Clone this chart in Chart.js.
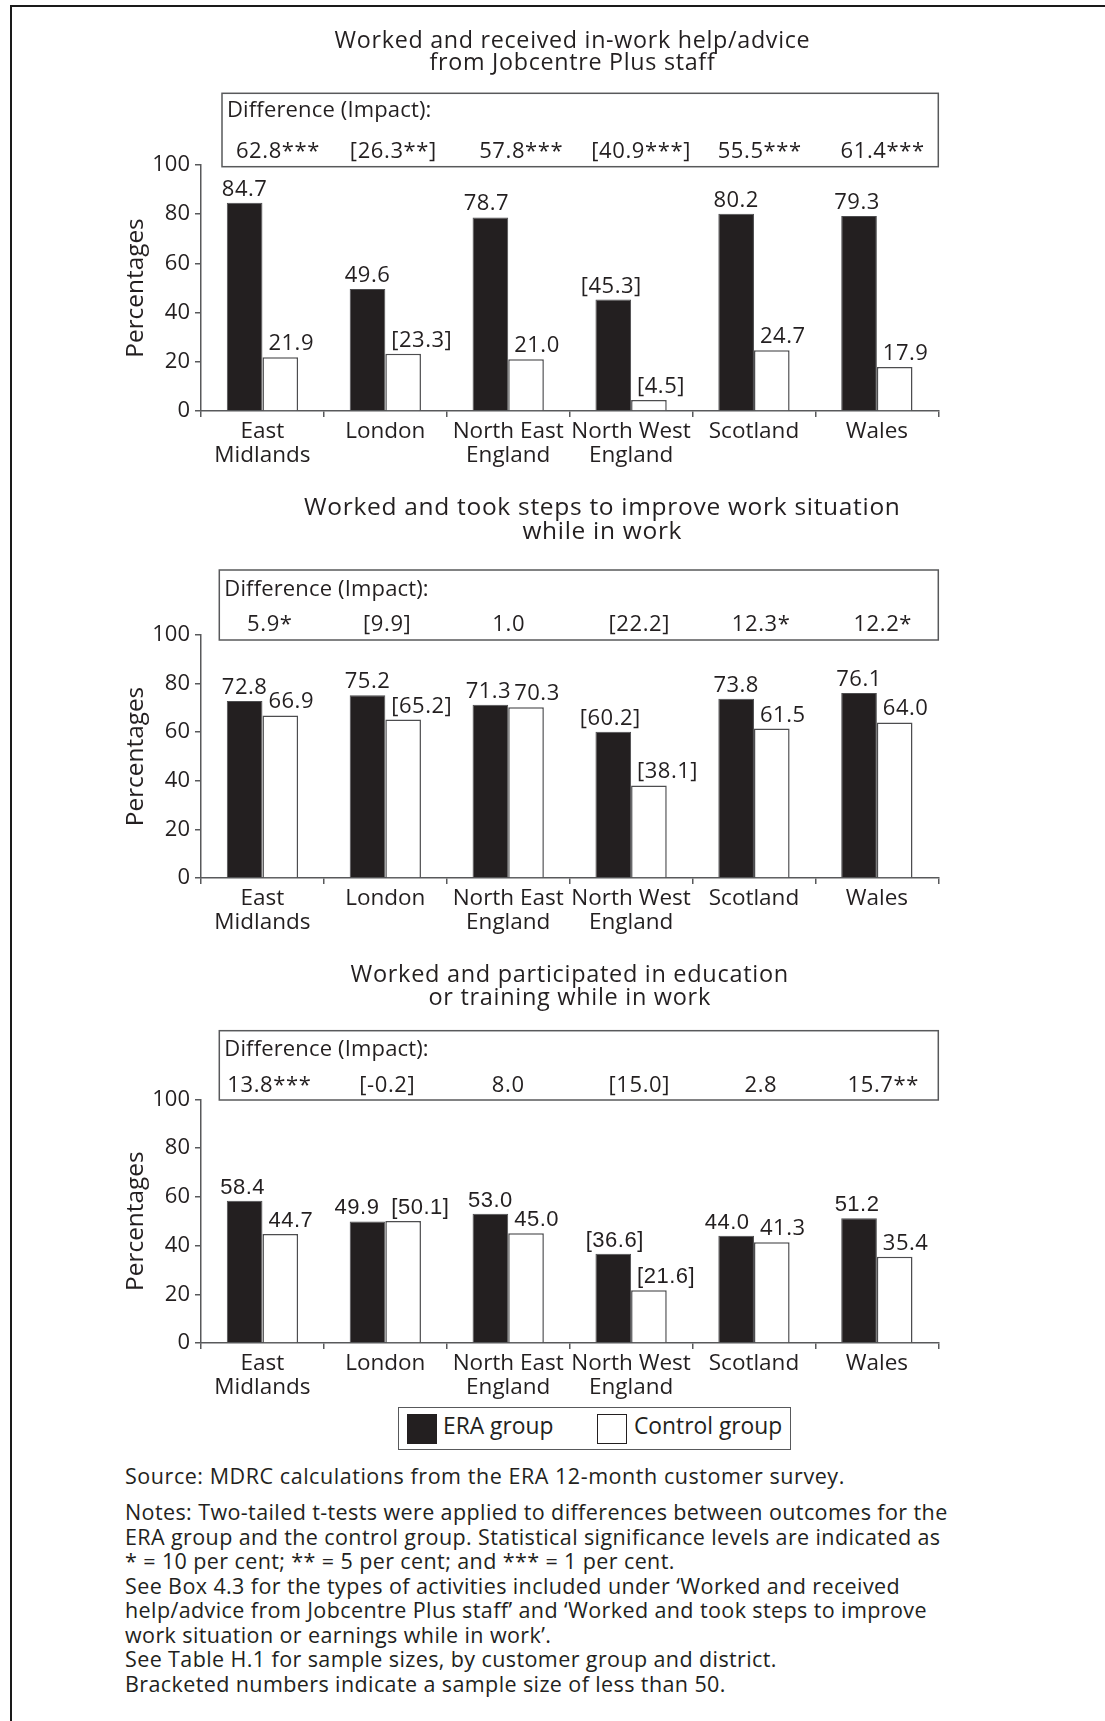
<!DOCTYPE html>
<html>
<head>
<meta charset="utf-8">
<title>ERA in-work outcomes by district</title>
<script src="https://cdn.jsdelivr.net/npm/chart.js@4.4.1/dist/chart.umd.min.js"></script>
<style>
  html, body { margin: 0; padding: 0; background: #ffffff; }
  #page {
    position: relative; width: 1105px; height: 1721px; overflow: hidden;
    font-family: 'Open Sans', 'Noto Sans', sans-serif; color: #231f20;
  }
  #frame {
    position: absolute; left: 10px; top: 5px; right: 0; bottom: 0;
    border-top: 2px solid #1a1a1a; border-left: 2px solid #1a1a1a;
  }
  canvas { position: absolute; left: 0; }
  .legend-box {
    position: absolute; left: 398px; top: 1407px; width: 393px; height: 43px;
    border: 1.5px solid #58595b; box-sizing: border-box;
  }
  .swatch { position: absolute; top: 1414px; width: 30px; height: 30px; box-sizing: border-box; }
  .swatch.era { left: 407px; background: #231f20; }
  .swatch.control { left: 597px; background: #ffffff; border: 1.5px solid #231f20; }
  .legend-text { position: absolute; top: 1414px; font-size: 22.8px; line-height: 23px; white-space: nowrap; }
  .notes { position: absolute; left: 125px; font-size: 21.5px; letter-spacing: 0.4px; line-height: 24.5px; white-space: nowrap; }
  .notes.source { letter-spacing: 0.55px; }
</style>
</head>
<body>
<div id="page">
  <div id="frame"></div>
  <canvas id="chartHelp"></canvas>
  <canvas id="chartSteps"></canvas>
  <canvas id="chartTraining"></canvas>

  <div class="legend-box"></div>
  <div class="swatch era"></div>
  <div class="legend-text" style="left:443px;">ERA group</div>
  <div class="swatch control"></div>
  <div class="legend-text" style="left:634px;">Control group</div>

  <div class="notes source" style="top:1464px;">Source: MDRC calculations from the ERA 12-month customer survey.</div>
  <div class="notes" style="top:1500px;">
    Notes: Two-tailed t-tests were applied to differences between outcomes for the<br>
    ERA group and the control group. Statistical significance levels are indicated as<br>
    * = 10 per cent; ** = 5 per cent; and *** = 1 per cent.<br>
    See Box 4.3 for the types of activities included under ‘Worked and received<br>
    help/advice from Jobcentre Plus staff’ and ‘Worked and took steps to improve<br>
    work situation or earnings while in work’.<br>
    See Table H.1 for sample sizes, by customer group and district.<br>
    Bracketed numbers indicate a sample size of less than 50.
  </div>
</div>

<script>
// ---- Data -------------------------------------------------------------
const districts = [['East', 'Midlands'], 'London', ['North East', 'England'], ['North West', 'England'], 'Scotland', 'Wales'];
const yTicks = [0, 20, 40, 60, 80, 100];

// Districts whose estimates rest on fewer than 50 cases (shown in brackets)
const eraBracketed = [false, false, false, true, false, false];
const controlBracketed = [false, true, false, true, false, false];

const helpTitle = ['Worked and received in-work help/advice', 'from Jobcentre Plus staff'];
const helpEra = [84.7, 49.6, 78.7, 45.3, 80.2, 79.3];
const helpControl = [21.9, 23.3, 21.0, 4.5, 24.7, 17.9];
const helpImpact = ['62.8***', '[26.3**]', '57.8***', '[40.9***]', '55.5***', '61.4***'];

const stepsTitle = ['Worked and took steps to improve work situation', 'while in work'];
const stepsEra = [72.8, 75.2, 71.3, 60.2, 73.8, 76.1];
const stepsControl = [66.9, 65.2, 70.3, 38.1, 61.5, 64.0];
const stepsImpact = ['5.9*', '[9.9]', '1.0', '[22.2]', '12.3*', '12.2*'];

const trainTitle = ['Worked and participated in education', 'or training while in work'];
const trainEra = [58.4, 49.9, 53.0, 36.6, 44.0, 51.2];
const trainControl = [44.7, 50.1, 45.0, 21.6, 41.3, 35.4];
const trainImpact = ['13.8***', '[-0.2]', '8.0', '[15.0]', '2.8', '15.7**'];

// ---- Styling & layout -------------------------------------------------
const INK = '#231f20';
const AXIS = '#58595b';
const FACE = "'Open Sans', 'Noto Sans', sans-serif";
const ALT_FACE = "'Liberation Sans', Arial, sans-serif";
const PAGE_W = 1105;
const PLOT_LEFT = 201;
const PLOT_RIGHT = 938.3;
const AXIS_H = 64;

const panels = [
  {
    id: 'chartHelp', title: helpTitle, era: helpEra, control: helpControl, impact: helpImpact,
    canvasTop: 0, plotTop: 165, plotBottom: 410.7,
    titleX: 572.5, titleBase: [48.3, 69.5], titleSize: 23.3,
    box: { left: 222, top: 93.3, bottom: 166.7 }, diffBase: 117, impactBase: 157.5,
    impactShift: [15.5, 8, 13, 10, 5.7, 5.8],
    eraNudge: [0, 0, -4, -2, 0, -2],
    eraFaces: null, controlFaces: null
  },
  {
    id: 'chartSteps', title: stepsTitle, era: stepsEra, control: stepsControl, impact: stepsImpact,
    canvasTop: 470, plotTop: 635, plotBottom: 877.7,
    titleX: 602.3, titleBase: [515, 539.3], titleSize: 24.5,
    box: { left: 219.3, top: 570, bottom: 640 }, diffBase: 596, impactBase: 630.5,
    impactShift: [7.4, 1.9, 0.5, 8.2, 7.2, 5.9],
    eraNudge: [0, 0, -2, -3, 0, 0],
    eraFaces: null, controlFaces: null
  },
  {
    id: 'chartTraining', title: trainTitle, era: trainEra, control: trainControl, impact: trainImpact,
    canvasTop: 935, plotTop: 1099.3, plotBottom: 1342.7,
    titleX: 569.7, titleBase: [981.7, 1004.5], titleSize: 23.5,
    box: { left: 219.3, top: 1030.7, bottom: 1100 }, diffBase: 1055.7, impactBase: 1091.7,
    impactShift: [6.9, 2, 0, 8.2, 6.9, 6.4],
    eraNudge: [-2, -10.5, 0, 1.5, -9, -2],
    eraFaces: [ALT_FACE, ALT_FACE, ALT_FACE, ALT_FACE, ALT_FACE, ALT_FACE],
    controlFaces: [ALT_FACE, ALT_FACE, ALT_FACE, ALT_FACE, FACE, FACE]
  }
];

const fmt = (v, bracketed) => bracketed ? '[' + v.toFixed(1) + ']' : v.toFixed(1);

// Title lines and the "Difference (Impact)" box above each plot
function headerPlugin(p) {
  return {
    id: 'panelHeader',
    afterDraw(chart) {
      const ctx = chart.ctx;
      const off = p.canvasTop;
      const xScale = chart.scales.x;
      ctx.save();
      ctx.fillStyle = INK;
      ctx.textBaseline = 'alphabetic';

      ctx.font = p.titleSize + 'px ' + FACE;
      ctx.letterSpacing = '0.7px';
      ctx.textAlign = 'center';
      p.title.forEach((line, i) => ctx.fillText(line, p.titleX, p.titleBase[i] - off));

      ctx.strokeStyle = AXIS;
      ctx.lineWidth = 1.5;
      ctx.strokeRect(p.box.left, p.box.top - off, PLOT_RIGHT - p.box.left, p.box.bottom - p.box.top);

      ctx.font = '22px ' + FACE;
      ctx.letterSpacing = '0.15px';
      ctx.textAlign = 'left';
      ctx.fillText('Difference (Impact):', p.box.left + 5, p.diffBase - off);

      ctx.textAlign = 'center';
      ctx.letterSpacing = '0.6px';
      p.impact.forEach((txt, i) => {
        ctx.fillText(txt, xScale.getPixelForValue(i) + p.impactShift[i], p.impactBase - off);
      });
      ctx.restore();
    }
  };
}

// Value labels over each bar
function barLabelPlugin(p) {
  return {
    id: 'barValues',
    afterDatasetsDraw(chart) {
      const ctx = chart.ctx;
      ctx.save();
      ctx.fillStyle = INK;
      ctx.textBaseline = 'alphabetic';
      ctx.letterSpacing = '0.5px';
      chart.getDatasetMeta(0).data.forEach((bar, i) => {
        ctx.font = '22px ' + (p.eraFaces ? p.eraFaces[i] : FACE);
        ctx.textAlign = 'center';
        ctx.fillText(fmt(p.era[i], eraBracketed[i]), bar.x + p.eraNudge[i], bar.y - 7);
      });
      chart.getDatasetMeta(1).data.forEach((bar, i) => {
        ctx.font = '22px ' + (p.controlFaces ? p.controlFaces[i] : FACE);
        ctx.textAlign = 'left';
        ctx.fillText(fmt(p.control[i], controlBracketed[i]), bar.x - bar.width / 2 + 6, bar.y - 7);
      });
      ctx.restore();
    }
  };
}

function buildPanel(p) {
  const canvas = document.getElementById(p.id);
  canvas.width = PAGE_W;
  canvas.height = Math.ceil(p.plotBottom - p.canvasTop + AXIS_H);
  canvas.style.top = p.canvasTop + 'px';

  new Chart(canvas, {
    type: 'bar',
    data: {
      labels: districts,
      datasets: [
        { label: 'ERA group', data: p.era, backgroundColor: INK, borderColor: '#4d4d4f', borderWidth: 1 },
        { label: 'Control group', data: p.control, backgroundColor: '#ffffff', borderColor: '#4d4d4f', borderWidth: 1.5 }
      ]
    },
    options: {
      responsive: false,
      animation: false,
      devicePixelRatio: 1,
      layout: { padding: { left: 0, right: PAGE_W - PLOT_RIGHT, top: p.plotTop - p.canvasTop, bottom: 0 } },
      datasets: { bar: { categoryPercentage: 0.58, barPercentage: 1 } },
      plugins: { legend: { display: false }, tooltip: { enabled: false }, title: { display: false } },
      scales: {
        x: {
          grid: { offset: true, drawOnChartArea: false, drawTicks: true, tickLength: 6, color: AXIS, lineWidth: 1.5 },
          border: { display: true, color: AXIS, width: 1.5 },
          ticks: { color: INK, font: { family: FACE, size: 22.5, lineHeight: 1.08 }, padding: 2, autoSkip: false, maxRotation: 0, minRotation: 0 },
          afterFit: (s) => { s.height = AXIS_H; }
        },
        y: {
          min: 0, max: 100,
          afterBuildTicks: (s) => { s.ticks = yTicks.map(v => ({ value: v })); },
          grid: { drawOnChartArea: false, drawTicks: true, tickLength: 6, color: AXIS, lineWidth: 1.5 },
          border: { display: true, color: AXIS, width: 1.5 },
          ticks: { color: INK, font: { family: FACE, size: 22 }, padding: 5 },
          title: { display: true, text: 'Percentages', color: INK, font: { family: FACE, size: 24.4, lineHeight: 1.2 }, padding: { top: 121.4, bottom: 0 } },
          afterFit: (s) => { s.width = PLOT_LEFT; }
        }
      }
    },
    plugins: [headerPlugin(p), barLabelPlugin(p)]
  });
}

panels.forEach(buildPanel);
</script>
</body>
</html>
